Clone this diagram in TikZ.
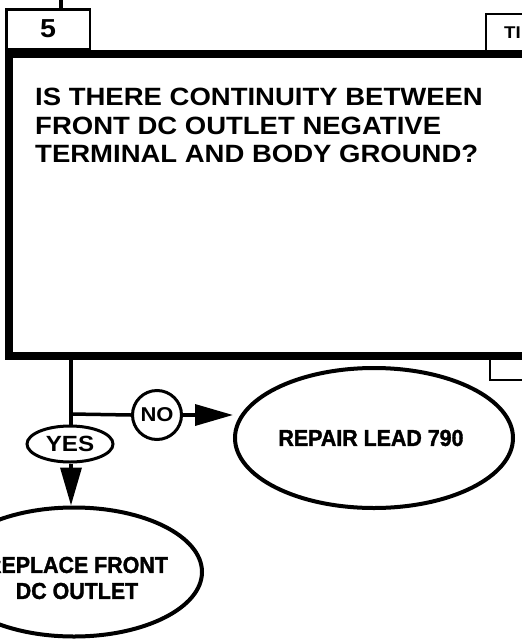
\documentclass[tikz,border=0pt]{standalone}
\usepackage{fontspec}
\setmainfont{Liberation Sans}
\newfontfamily\qfont[UprightFont={* Bold},FakeStretch=1.1]{Liberation Sans}
\newfontfamily\actfont[UprightFont={* Bold},FakeBold=1.5,FakeStretch=0.93]{Liberation Sans}
\usetikzlibrary{arrows.meta,shapes.geometric,positioning}

\begin{document}
\begin{tikzpicture}[x=1pt,y=-1pt,
    flow/.style={line width=3.5pt},
    arrow/.style={line width=3.5pt,-{Triangle[length=38pt,width=21pt]}},
    frame/.style={draw,line width=7.5pt,inner sep=0pt,outer sep=0pt},
    tag/.style={draw,line width=2.5pt,inner sep=0pt,outer sep=0pt},
    qtext/.style={inner sep=0pt,align=left,font=\qfont\fontsize{25}{28.5}\selectfont},
    answer/.style={draw,ellipse,line width=3pt,inner sep=0pt,font=\qfont\fontsize{22}{22}\selectfont},
    action/.style={draw,ellipse,line width=4pt,inner sep=0pt},
    acttext/.style={inner sep=0pt,align=center,font=\actfont\fontsize{23}{26}\selectfont}]
    \useasboundingbox (0,0) rectangle (522,643);
    \clip (0,0) rectangle (522,643);
    \node[tag,minimum width=83.5,minimum height=39.5,font=\qfont\fontsize{26}{26}\selectfont] (stepno) at (48,29) {5};
    \node[tag,minimum width=80,minimum height=38,anchor=north west] (nextbox) at (486,14) {};
    \node[inner sep=0pt,font=\qfont\fontsize{17}{17}\selectfont,right=18pt of nextbox.west] (nexttext) {TI};
    \node[frame,minimum width=620,minimum height=302,anchor=north west] (quest) at (9,54) {};
    \node[qtext,below right=34pt and 26pt of quest.north west] (questtext) {IS THERE CONTINUITY BETWEEN\\FRONT DC OUTLET NEGATIVE\\TERMINAL AND BODY GROUND?};
    \coordinate (fromabove) at (61,-5);
    \coordinate (split) at (71,414);
    \coordinate (offright) at (530,380);
    \node[answer,minimum width=86,minimum height=36] (yes) at (70,444) {YES};
    \node[draw,circle,line width=3pt,minimum size=49,inner sep=0pt,font=\qfont\fontsize{20}{20}\selectfont] (no) at (157,415) {NO};
    \node[action,minimum width=278,minimum height=140] (repair) at (374,438) {};
    \node[acttext] (repairtext) at ([xshift=-3pt]repair.center) {REPAIR LEAD 790};
    \node[action,minimum width=256,minimum height=129] (replace) at (74,572) {};
    \node[acttext] (replacetext) at ([xshift=3pt,yshift=-6pt]replace.center) {REPLACE FRONT\\DC OUTLET};
    \draw[flow] (fromabove) -- (fromabove |- stepno.north);
    \draw[flow] (quest.south -| split) -- (yes.north -| split);
    \draw[flow] (split) -- (no.west);
    \draw[arrow] (no.east) -- (no.east -| repair.west);
    \draw[arrow] (yes.south -| split) -- (replace.north -| split);
    \draw[flow,line width=2.5pt] ([xshift=481pt]quest.south west) |- (offright);
\end{tikzpicture}
\end{document}
